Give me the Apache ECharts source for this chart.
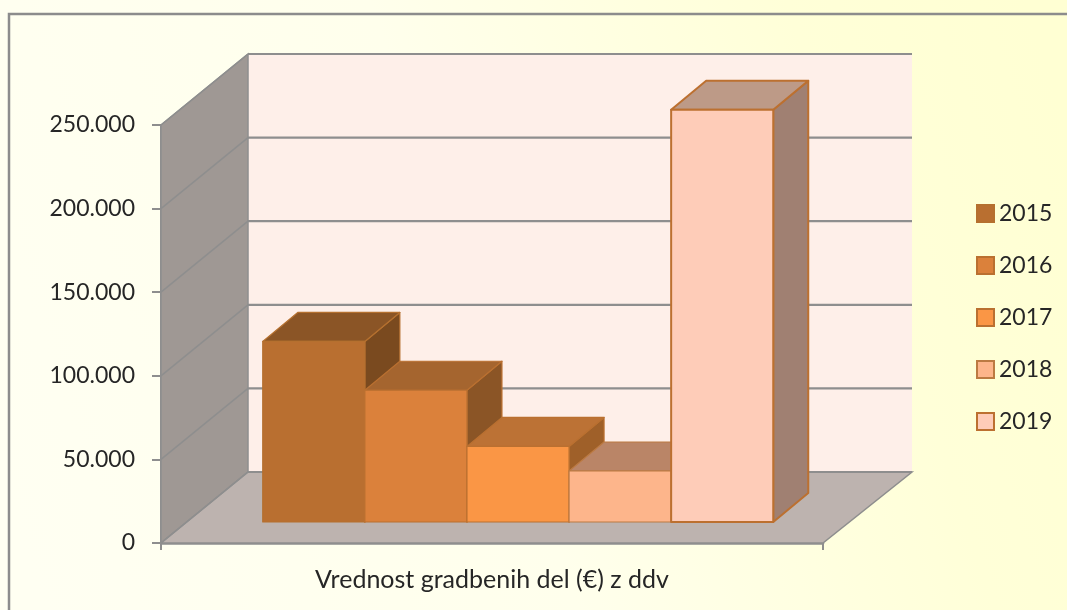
<!DOCTYPE html>
<html>
<head>
<meta charset="utf-8">
<style>html,body{margin:0;padding:0;background:#fff}#c{width:1067px;height:610px}</style>
<script src="https://cdn.jsdelivr.net/npm/echarts@6/dist/echarts.min.js"></script>
</head>
<body>
<div id="c"></div>
<script>
const categories = ['Vrednost gradbenih del (€) z ddv'];
const years = ['2015','2016','2017','2018','2019'];
const values = [108000, 78800, 45200, 30500, 246500];
const yTicks = [0, 50000, 100000, 150000, 200000, 250000];
const frontColors = ['#B96F30','#DB813B','#FA9645','#FDB58B','#FECCB8'];
const topColors   = ['#8B5526','#A5652F','#BC7235','#BA8567','#BD9A87'];
const sideColors  = ['#7A4A1F','#8B5526','#9F6029','#9A6B50','#A08072'];
const borderColors= ['#B5702F','#BA7030','#BA7030','#BC7A42','#BC7030'];

const FONT = 'Lato';
const GRID = {left:161, right:244, top:125, bottom:67};
const WALL_DX_L = 87, WALL_DX_R = 89, WALL_DY = -71; // depth of the whole 3D box
const SHIFT_DX = 26, SHIFT_DY = -21; // bars sit this far behind the front plane
const BAR_DX = 35, BAR_DY = -29;     // depth of a bar
const BAR_FRAC = 102.1/662;
const GRAY = '#8E8E8E';

function wallsItem(params, api){
  const w = api.size([1,0])[0];
  const c = api.coord([0,0]);
  const topY = api.coord([0,250000])[1];
  const l = c[0]-w/2, r = c[0]+w/2, b = c[1];
  const poly = (pts, fill, stroke) => ({type:'polygon', shape:{points:pts}, style:{fill:fill, stroke:stroke, lineWidth:1.5}});
  return {type:'group', children:[
    poly([[l+WALL_DX_L,topY+WALL_DY],[r+WALL_DX_R,topY+WALL_DY],[r+WALL_DX_R,b+WALL_DY],[l+WALL_DX_L,b+WALL_DY]], '#FEEFE9', null),
    poly([[l,topY],[l+WALL_DX_L,topY+WALL_DY],[l+WALL_DX_L,b+WALL_DY],[l,b]], '#9F9894', GRAY),
    poly([[l,b],[l+WALL_DX_L,b+WALL_DY],[r+WALL_DX_R,b+WALL_DY],[r,b]], '#BDB3AF', GRAY)
  ]};
}
function gridItem(params, api){
  const w = api.size([1,0])[0];
  const c = api.coord([0,api.value(0)]);
  const l = c[0]-w/2, r = c[0]+w/2, y = c[1];
  const line = (x1,y1,x2,y2,lw)=>({type:'line', shape:{x1,y1,x2,y2}, style:{stroke:GRAY, lineWidth:lw}});
  return {type:'group', children:[
    line(l,y,l+WALL_DX_L,y+WALL_DY,1.5),
    line(l+WALL_DX_L,y+WALL_DY,r+WALL_DX_R,y+WALL_DY,2.2)
  ]};
}
function barItem(idx){
  return function(params, api){
    const w = api.size([1,0])[0];
    const bw = w*BAR_FRAC;
    const top = api.coord([api.value(0), api.value(1)]);
    const base = api.coord([api.value(0), 0]);
    const x0 = top[0] - 2.5*bw + idx*bw + SHIFT_DX;
    const x1 = x0 + bw;
    const yt = top[1] + SHIFT_DY, yb = base[1] + SHIFT_DY;
    const st = {stroke:borderColors[idx], lineWidth:idx===4?2:1.2, lineJoin:'round'};
    return {type:'group', children:[
      {type:'polygon', shape:{points:[[x1,yt],[x1+BAR_DX,yt+BAR_DY],[x1+BAR_DX,yb+BAR_DY],[x1,yb]]}, style:Object.assign({fill:sideColors[idx]},st)},
      {type:'polygon', shape:{points:[[x0,yt],[x0+BAR_DX,yt+BAR_DY],[x1+BAR_DX,yt+BAR_DY],[x1,yt]]}, style:Object.assign({fill:topColors[idx]},st)},
      {type:'polygon', shape:{points:[[x0,yt],[x1,yt],[x1,yb],[x0,yb]]}, style:Object.assign({fill:frontColors[idx]},st)}
    ]};
  };
}
const barSeries = years.map((y,i)=>({
  type:'custom', name:y, coordinateSystem:'cartesian2d', renderItem:barItem(i),
  data:[[0, values[i]]], encode:{x:0,y:1}, clip:false, z:5,
  itemStyle:{color:frontColors[i], borderColor:borderColors[i]}
}));

const chart = echarts.init(document.getElementById('c'), null, {renderer:'canvas'});
chart.setOption({
  animation:false,
  backgroundColor:{type:'linear',x:0,y:0.8,x2:1,y2:0.2,colorStops:[
    {offset:0,color:'#FFFFF2'},{offset:0.45,color:'#FFFFEC'},{offset:0.8,color:'#FFFFD8'},{offset:1,color:'#FFFFD3'}]},
  graphic:[{type:'rect',z:-1,shape:{x:9,y:14,width:1070,height:620},style:{fill:null,stroke:'#8C8C8C',lineWidth:2.5}}],
  grid:GRID,
  legend:{
    orient:'vertical', left:971, top:197, itemWidth:17, itemHeight:17, itemGap:29,
    icon:'rect', textStyle:{fontFamily:FONT,fontSize:23,color:'#262626'},
    data:years.map((y,i)=>({name:y,itemStyle:{color:frontColors[i],borderColor:borderColors[i],borderWidth:2}}))
  },
  xAxis:{
    type:'category', data:categories, boundaryGap:true,
    axisLine:{lineStyle:{color:GRAY,width:2.5}},
    axisTick:{show:true,alignWithLabel:false,length:7,lineStyle:{color:GRAY,width:2}},
    axisLabel:{fontFamily:FONT,fontSize:25,color:'#262626',margin:24}
  },
  yAxis:{
    type:'value', min:0, max:250000, interval:50000,
    axisLine:{show:true,lineStyle:{color:GRAY,width:2}},
    axisTick:{show:true,length:9,lineStyle:{color:GRAY,width:2}},
    splitLine:{show:false},
    axisLabel:{fontFamily:FONT,fontSize:23,color:'#262626',margin:26,
      formatter:v=>v===0?'0':String(v/1000)+'.000'}
  },
  series:[
    {type:'custom',name:'walls',renderItem:wallsItem,data:[[0]],encode:{x:0},silent:true,z:1,clip:false},
    {type:'custom',name:'grid',renderItem:gridItem,data:yTicks.map(v=>[v]),encode:{y:0},silent:true,z:2,clip:false},
    ...barSeries
  ]
});
</script>
</body>
</html>
